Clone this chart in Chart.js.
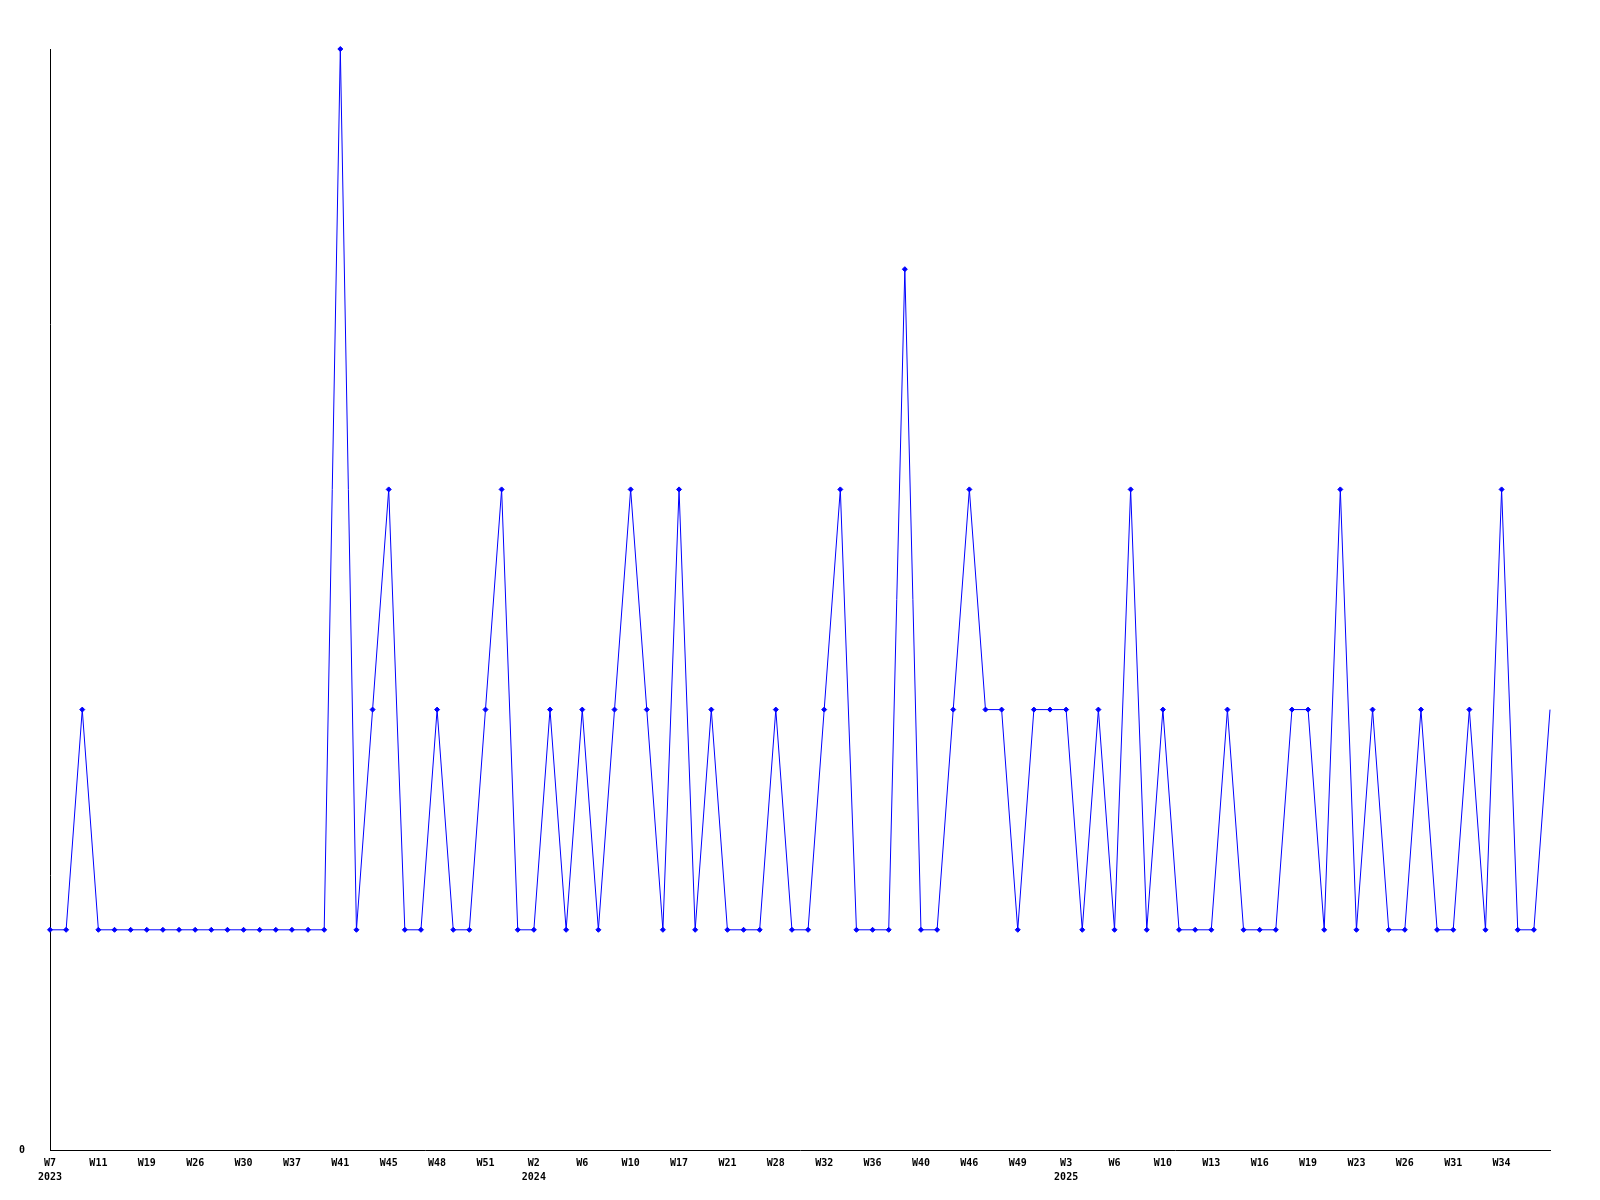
<!DOCTYPE html>
<html>
<head>
<meta charset="utf-8">
<script src="https://cdn.jsdelivr.net/npm/chart.js@4/dist/chart.umd.min.js"></script>
<style>
    html, body { margin: 0; padding: 0; background: #fff; }
    #wrap { width: 1600px; height: 1200px; }
</style>
</head>
<body>
<div id="wrap"><canvas id="chart" width="1600" height="1200"></canvas></div>
<script>
// ============================================
// DATA
// ============================================

// one label every third point
const tickLabels = [
    'W7', 'W11', 'W19', 'W26', 'W30', 'W37', 'W41', 'W45', 'W48', 'W51',
    'W2', 'W6', 'W10', 'W17', 'W21', 'W28', 'W32', 'W36', 'W40', 'W46', 'W49',
    'W3', 'W6', 'W10', 'W13', 'W16', 'W19', 'W23', 'W26', 'W31', 'W34'
];

// year shown under the first label of each year
const tickYears = {
    0: '2023',
    10: '2024',
    21: '2025'
};

const values = [
    1, 1, 2, 1, 1, 1, 1, 1, 1, 1,
    1, 1, 1, 1, 1, 1, 1, 1, 5, 1,
    2, 3, 1, 1, 2, 1, 1, 2, 3, 1,
    1, 2, 1, 2, 1, 2, 3, 2, 1, 3,
    1, 2, 1, 1, 1, 2, 1, 1, 2, 3,
    1, 1, 1, 4, 1, 1, 2, 3, 2, 2,
    1, 2, 2, 2, 1, 2, 1, 3, 1, 2,
    1, 1, 1, 2, 1, 1, 1, 2, 2, 1,
    3, 1, 2, 1, 1, 2, 1, 1, 2, 1,
    3, 1, 1, 2
];

// category per point; unlabelled points get a unique blank key
const categories = values.map((v, i) => {
    const n = i / 3;
    return i % 3 === 0 && tickLabels[n] ? tickLabels[n] : ' '.repeat(i % 3 + 1) + i;
});

// ============================================
// CHART
// ============================================

const tickFont = {
    family: '"DejaVu Sans Mono", monospace',
    size: 10,
    weight: 'bold',
    lineHeight: 1.4
};

const ctx = document.getElementById('chart').getContext('2d');

new Chart(ctx, {
    type: 'line',

    data: {
        labels: categories,

        datasets: [
            {
                data: values,
                borderColor: '#0000ff',
                backgroundColor: '#0000ff',
                borderWidth: 1,
                fill: false,
                tension: 0,
                pointStyle: 'rectRot',
                pointRadius: values.map((v, i) => (i === values.length - 1 ? 0 : 2.5)),
                pointBorderWidth: 1,
                pointBorderColor: '#0000ff',
                pointBackgroundColor: '#0000ff',
                clip: false
            }
        ]
    },

    options: {
        responsive: false,
        animation: false,
        devicePixelRatio: 1,

        layout: {
            padding: { top: 49, right: 50, left: 0, bottom: 0 }
        },

        plugins: {
            legend: { display: false },
            tooltip: { enabled: false }
        },

        scales: {
            x: {
                type: 'category',
                offset: false,
                grid: { display: false, drawTicks: false },
                border: { display: true, color: '#000', width: 1 },

                ticks: {
                    autoSkip: false,
                    maxRotation: 0,
                    minRotation: 0,
                    padding: 6,
                    color: '#000',
                    font: tickFont,

                    callback(value, index) {
                        const n = index / 3;
                        if (index % 3 !== 0 || !tickLabels[n]) {
                            return null;
                        }
                        return tickYears[n] ? [tickLabels[n], tickYears[n]] : tickLabels[n];
                    }
                },

                afterFit(axis) {
                    axis.height = 50;
                }
            },

            y: {
                min: 0,
                max: 5,
                grid: { display: false, drawTicks: false },
                border: { display: true, color: '#000', width: 1 },

                ticks: {
                    stepSize: 5,
                    padding: 25,
                    color: '#000',
                    font: tickFont,

                    callback(value) {
                        return value === 0 ? '0' : null;
                    }
                },

                afterFit(axis) {
                    axis.width = 50;
                }
            }
        }
    }
});
</script>
</body>
</html>
